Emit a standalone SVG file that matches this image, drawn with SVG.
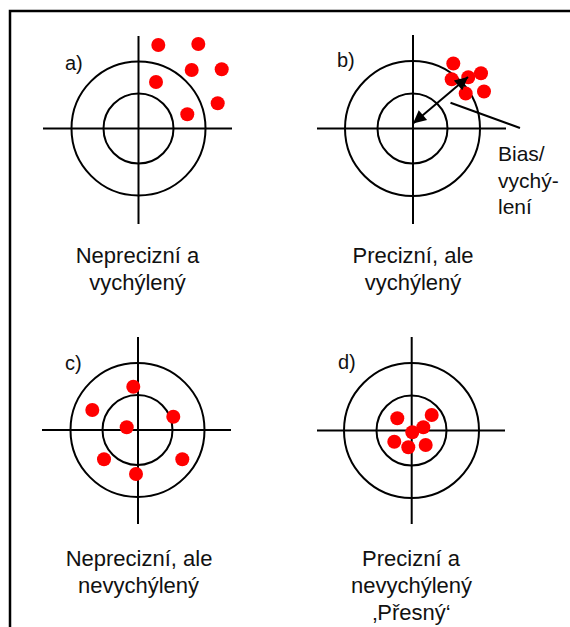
<svg xmlns="http://www.w3.org/2000/svg" width="570" height="627" viewBox="0 0 570 627">
<style>
.ring{fill:none;stroke:#000;stroke-width:2}
.axis{stroke:#000;stroke-width:2}
.dot{fill:#ff0000}
.lbl{font-family:"Liberation Sans",Arial,sans-serif;font-size:22px;fill:#111;text-anchor:middle}
.tag{font-family:"Liberation Sans",Arial,sans-serif;font-size:20px;fill:#111}
.side{font-family:"Liberation Sans",Arial,sans-serif;font-size:21px;fill:#111}
</style>
<defs>
<marker id="ah" viewBox="0 0 10 10" refX="10" refY="5" markerWidth="16" markerHeight="13" markerUnits="userSpaceOnUse" orient="auto-start-reverse">
<path d="M0,0 L10,5 L0,10 z" fill="#000"/>
</marker>
</defs>
<rect width="570" height="627" fill="#fff"/>
<polyline points="10,627 10,11 570,11" fill="none" stroke="#000" stroke-width="2.5"/>

<g id="target-a">
<line class="axis" x1="138.5" y1="36" x2="138.5" y2="224"/>
<line class="axis" x1="43" y1="128.5" x2="232" y2="128.5"/>
<circle class="ring" cx="138.5" cy="128.5" r="67"/>
<circle class="ring" cx="138.5" cy="128.5" r="35"/>
<circle class="dot" cx="158.3" cy="45" r="7"/>
<circle class="dot" cx="198.3" cy="44" r="7"/>
<circle class="dot" cx="191.7" cy="70" r="7"/>
<circle class="dot" cx="221.7" cy="69.3" r="7"/>
<circle class="dot" cx="156" cy="82" r="7"/>
<circle class="dot" cx="217.7" cy="103.3" r="7"/>
<circle class="dot" cx="187.3" cy="114.3" r="7"/>
<text class="tag" x="65" y="70">a)</text>
<text class="lbl" x="137.5" y="263">Neprecizní a</text>
<text class="lbl" x="137.5" y="290">vychýlený</text>
</g>

<g id="target-b">
<line class="axis" x1="413" y1="35" x2="413" y2="224"/>
<line class="axis" x1="317" y1="128.5" x2="506" y2="128.5"/>
<circle class="ring" cx="412.5" cy="128.5" r="67.5"/>
<circle class="ring" cx="412.5" cy="128.5" r="35"/>
<circle class="dot" cx="453.3" cy="63.5" r="7"/>
<circle class="dot" cx="451.7" cy="79.3" r="7"/>
<circle class="dot" cx="468.3" cy="77.3" r="7"/>
<circle class="dot" cx="481" cy="73.3" r="7"/>
<circle class="dot" cx="484" cy="91.5" r="7"/>
<circle class="dot" cx="465.7" cy="93.5" r="7"/>
<text class="tag" x="337" y="67">b)</text>
<text class="lbl" x="413" y="263">Precizní, ale</text>
<text class="lbl" x="413" y="290">vychýlený</text>
</g>

<g id="target-c">
<line class="axis" x1="138" y1="337" x2="138" y2="524"/>
<line class="axis" x1="42" y1="430" x2="231" y2="430"/>
<circle class="ring" cx="137.5" cy="430" r="67"/>
<circle class="ring" cx="137.5" cy="430" r="35"/>
<circle class="dot" cx="133.3" cy="386.7" r="7"/>
<circle class="dot" cx="92.3" cy="410" r="7"/>
<circle class="dot" cx="173.3" cy="416.7" r="7"/>
<circle class="dot" cx="126.7" cy="427.3" r="7"/>
<circle class="dot" cx="104" cy="459.3" r="7"/>
<circle class="dot" cx="182.3" cy="459.3" r="7"/>
<circle class="dot" cx="136" cy="474" r="7"/>
<text class="tag" x="65" y="370">c)</text>
<text class="lbl" x="139" y="566">Neprecizní, ale</text>
<text class="lbl" x="138.5" y="593">nevychýlený</text>
</g>

<g id="target-d">
<line class="axis" x1="411.7" y1="337" x2="411.7" y2="524"/>
<line class="axis" x1="317" y1="430.5" x2="505" y2="430.5"/>
<circle class="ring" cx="411.5" cy="430.5" r="67.5"/>
<circle class="ring" cx="411.5" cy="430.5" r="35"/>
<circle class="dot" cx="397.3" cy="418.3" r="7"/>
<circle class="dot" cx="431.7" cy="415" r="7"/>
<circle class="dot" cx="423.3" cy="427.3" r="7"/>
<circle class="dot" cx="412.3" cy="432.3" r="7"/>
<circle class="dot" cx="394.3" cy="441.7" r="7"/>
<circle class="dot" cx="408.3" cy="447.3" r="7"/>
<circle class="dot" cx="425.7" cy="445" r="7"/>
<text class="tag" x="338" y="369">d)</text>
<text class="lbl" x="411" y="566">Precizní a</text>
<text class="lbl" x="411.5" y="593">nevychýlený</text>
<text class="lbl" x="411.5" y="620">‚Přesný‘</text>
</g>

<g id="bias-label">
<text class="side" x="498" y="161">Bias/</text>
<text class="side" x="498" y="188">vychý-</text>
<text class="side" x="498" y="214">lení</text>
</g>

<g id="connectors">
<line x1="413" y1="123.5" x2="468" y2="77" stroke="#000" stroke-width="2" marker-start="url(#ah)" marker-end="url(#ah)"/>
<line x1="450.5" y1="102.7" x2="520" y2="128" stroke="#000" stroke-width="2"/>
</g>
</svg>
